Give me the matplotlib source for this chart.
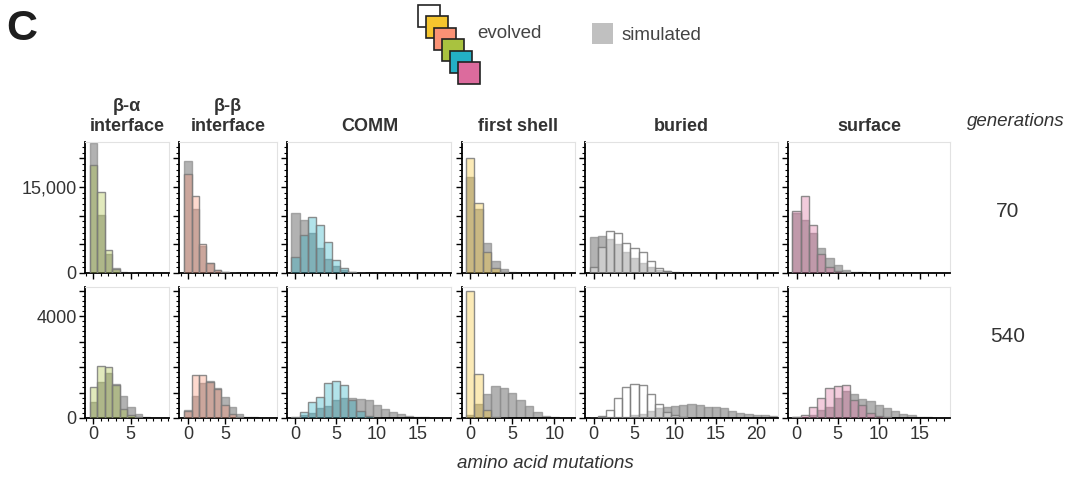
import numpy as np
import matplotlib
matplotlib.use("Agg")
import matplotlib.pyplot as plt
from matplotlib.patches import Rectangle
from matplotlib.ticker import MultipleLocator, FixedLocator, FuncFormatter

plt.rcParams.update({
    "font.family": ["Liberation Sans", "DejaVu Sans"],
    "font.size": 13,
    "text.color": "#333333",
    "xtick.color": "black",
    "ytick.color": "black",
    "xtick.labelcolor": "#333333",
    "ytick.labelcolor": "#333333",
})

# ---- mutation-count histograms (counts per bin, bin k = k mutations) ----
regions = ["β-α\ninterface", "β-β\ninterface", "COMM", "first shell", "buried", "surface"]
region_colors = ["#a9c23f", "#fa9275", "#23b0c5", "#f5c52e", "#ffffff", "#dc6b9d"]

# generation 70
ba_70_evo = [18800, 14100, 4000, 750, 60, 10]
ba_70_sim = [22600, 10100, 3400, 800, 150, 40, 10]
bb_70_evo = [17300, 13400, 5100, 1700, 500, 100, 30]
bb_70_sim = [19500, 11100, 4700, 1800, 600, 200, 60, 20]
comm_70_evo = [2800, 6600, 9700, 8400, 5400, 2300, 940, 150, 30]
comm_70_sim = [10400, 9300, 6900, 4300, 2500, 1200, 500, 200, 50, 10]
fs_70_evo = [20100, 12300, 3600, 940, 200, 30]
fs_70_sim = [16800, 11100, 5300, 2100, 700, 150, 30]
bur_70_evo = [1050, 4500, 7300, 7000, 5200, 4300, 3600, 2100, 900, 300, 50]
bur_70_sim = [6200, 6400, 6000, 5100, 3700, 2700, 1750, 1050, 500, 300, 100, 30]
surf_70_evo = [10900, 13400, 8400, 3400, 1050, 400, 100, 20]
surf_70_sim = [10400, 9300, 7000, 4400, 2600, 1350, 600, 250, 100, 30]

# generation 540
ba_540_evo = [1200, 2050, 2000, 1300, 340, 100, 20]
ba_540_sim = [610, 1400, 1750, 1350, 870, 420, 150, 50, 10]
bb_540_evo = [280, 1690, 1690, 1400, 1120, 520, 150, 50]
bb_540_sim = [300, 870, 1390, 1460, 1170, 820, 420, 170, 50, 20]
comm_540_evo = [20, 220, 610, 840, 1390, 1460, 1300, 690, 260, 60, 10]
comm_540_sim = [5, 100, 200, 380, 480, 690, 780, 800, 750, 690, 520, 360, 230, 160, 90, 50, 20]
fs_540_evo = [4970, 1710, 320, 50, 10]
fs_540_sim = [100, 550, 950, 1270, 1170, 980, 710, 480, 230, 90, 30]
bur_540_evo = [10, 90, 320, 770, 1200, 1330, 1290, 940, 560, 240, 100, 40, 10]
bur_540_sim = [0, 20, 20, 20, 20, 100, 140, 270, 380, 430, 490, 520, 550, 520, 450,
               430, 380, 290, 200, 170, 120, 120, 70]
surf_540_evo = [30, 100, 430, 770, 1170, 1260, 1300, 710, 520, 200, 80, 20]
surf_540_sim = [30, 30, 100, 300, 450, 800, 1050, 940, 750, 650, 520, 380, 290, 170, 100, 50, 30]

rows = [
    ("70", [(ba_70_evo, ba_70_sim), (bb_70_evo, bb_70_sim), (comm_70_evo, comm_70_sim),
            (fs_70_evo, fs_70_sim), (bur_70_evo, bur_70_sim), (surf_70_evo, surf_70_sim)]),
    ("540", [(ba_540_evo, ba_540_sim), (bb_540_evo, bb_540_sim), (comm_540_evo, comm_540_sim),
             (fs_540_evo, fs_540_sim), (bur_540_evo, bur_540_sim), (surf_540_evo, surf_540_sim)]),
]

x_limits = [(-1.1, 10.1), (-1.2, 12.1), (-1.0, 19.2), (-1.0, 12.4), (-1.1, 22.6), (-1.05, 18.7)]
x_majors = [[0, 5], [0, 5], [0, 5, 10, 15], [0, 5, 10], [0, 5, 10, 15, 20], [0, 5, 10, 15]]
y_limits = [22860, 5140]
y_major_step = [5000, 1000]
y_minor_step = [1000, 200]
y_labelled = [{0: "0", 15000: "15,000"}, {0: "0", 4000: "4000"}]

W, H = 1069, 478
fig = plt.figure(figsize=(W / 100, H / 100), dpi=100)
gs = fig.add_gridspec(
    2, 6, left=85 / W, right=950 / W, top=1 - 142 / H, bottom=1 - 418 / H,
    width_ratios=[84, 98, 164, 113, 193, 162], wspace=0.075, hspace=0.107,
)

SIM_FACE = (0.5, 0.5, 0.5, 0.6)
SIM_EDGE = (0.55, 0.55, 0.55, 0.7)
EVO_EDGE = (0.48, 0.48, 0.48, 0.85)

for r, (gen, panels) in enumerate(rows):
    for c, (evo, sim) in enumerate(panels):
        ax = fig.add_subplot(gs[r, c])
        ax.bar(np.arange(len(sim)), sim, width=1.0, color=SIM_FACE,
               edgecolor=SIM_EDGE, linewidth=1.0, zorder=2)
        face = matplotlib.colors.to_rgba(region_colors[c], 0.35)
        ax.bar(np.arange(len(evo)), evo, width=1.0, color=face,
               edgecolor=EVO_EDGE, linewidth=1.0, zorder=3)

        ax.set_xlim(*x_limits[c])
        ax.set_ylim(0, y_limits[r])
        ax.xaxis.set_major_locator(FixedLocator(x_majors[c]))
        ax.xaxis.set_minor_locator(MultipleLocator(1))
        ax.yaxis.set_major_locator(MultipleLocator(y_major_step[r]))
        ax.yaxis.set_minor_locator(MultipleLocator(y_minor_step[r]))

        labels = y_labelled[r]
        if c == 0:
            ax.yaxis.set_major_formatter(FuncFormatter(lambda v, p, lb=labels: lb.get(int(round(v)), "")))
        else:
            ax.yaxis.set_major_formatter(FuncFormatter(lambda v, p: ""))
        if r == 0:
            ax.xaxis.set_major_formatter(FuncFormatter(lambda v, p: ""))
            ax.set_title(regions[c], fontsize=13, fontweight="bold", pad=8,
                         linespacing=1.25, color="#333333")

        ax.tick_params(which="major", direction="out", length=4, width=1.0,
                       labelsize=13, pad=2)
        ax.tick_params(which="minor", direction="out", length=2, width=0.8)
        for s in ("left", "bottom"):
            ax.spines[s].set_color("black")
            ax.spines[s].set_linewidth(1.3)
        for s in ("top", "right"):
            ax.spines[s].set_color("#e2e2e2")
            ax.spines[s].set_linewidth(0.8)

    fig.text(1008 / W, 1 - (212 if r == 0 else 337) / H, gen, ha="center", va="center",
             fontsize=15, color="#333333")

# ---- header: panel letter, legend glyphs, row/axis captions ----
def fx(px):
    return px / W


def fy(py):
    return 1 - py / H


fig.text(fx(22), fy(29), "C", fontsize=31, fontweight="bold", ha="center", va="center",
         color="#1e1e1e")

legend_colors = ["#ffffff", "#f5c52e", "#fa9275", "#a9c23f", "#23b0c5", "#dc6b9d"]
for i, col in enumerate(legend_colors):
    x0, y0 = 418 + 8 * i, 5 + 11.4 * i
    fig.patches.append(Rectangle((fx(x0), fy(y0 + 22)), 22 / W, 22 / H,
                                 transform=fig.transFigure, facecolor=col,
                                 edgecolor="#222222", linewidth=1.2, zorder=3 + i))
fig.text(fx(477), fy(33), "evolved", fontsize=13.5, ha="left", va="center", color="#444444")
fig.patches.append(Rectangle((fx(592), fy(44)), 21 / W, 21 / H, transform=fig.transFigure,
                             facecolor="#c0c0c0", edgecolor="none"))
fig.text(fx(622), fy(36), "simulated", fontsize=13.5, ha="left", va="center", color="#444444")

fig.text(fx(1016), fy(121), "generations", fontsize=13.5, style="italic", ha="center",
         va="center", color="#333333")
fig.text(fx(545), fy(464), "amino acid mutations", fontsize=13.5, style="italic",
         ha="center", va="center", color="#333333")

fig.savefig("out.png", dpi=100)
